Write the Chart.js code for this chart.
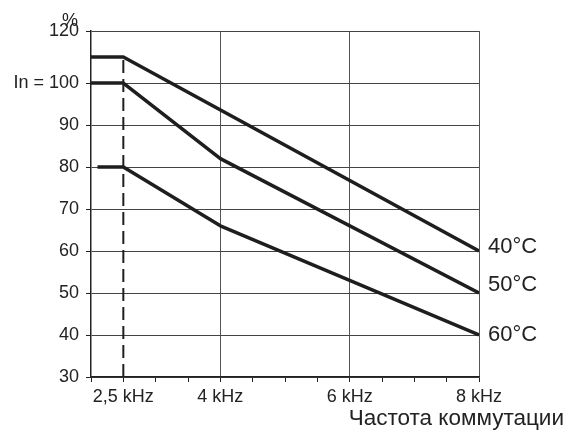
<!DOCTYPE html>
<html>
<head>
<meta charset="utf-8">
<script src="https://cdn.jsdelivr.net/npm/chart.js@4.4.1/dist/chart.umd.min.js"></script>
<style>
  html, body { margin: 0; padding: 0; background: #fff; }
  #wrap { width: 568px; height: 431px; }
</style>
</head>
<body>
<div id="wrap"><canvas id="derating" width="568" height="431"></canvas></div>
<script>
// Kurven (Frequenz in kHz, Strom in %)
const freq40 = [2, 2.5, 8];
const val40  = [110, 110, 60];
const freq50 = [2, 2.5, 4, 8];
const val50  = [100, 100, 82, 50];
const freq60 = [2.1, 2.5, 4, 8];
const val60  = [80, 80, 66, 40];
const curveLabels = ['40°C', '50°C', '60°C'];

// gestrichelte Linie bei 2,5 kHz
const dashFreq = [2.5, 2.5];
const dashVal  = [30, 110];

const xMajor       = [2.5, 4, 6, 8];
const xMajorLabels = ['2,5 kHz', '4 kHz', '6 kHz', '8 kHz'];
const xGridAt      = [4, 6, 8];
const yTicks       = [30, 40, 50, 60, 70, 80, 90, 100, 120];
const yTickLabels  = ['30', '40', '50', '60', '70', '80', '90', 'In = 100', '120'];

const FONT = "'Liberation Sans', Arial, sans-serif";
const SQUEEZE = 0.62; // Bereich ueber 100 % ist im Original gestaucht

function squeeze(v) {
  return v > 100 ? 100 + (v - 100) * SQUEEZE : v;
}

class KnickScale extends Chart.LinearScale {
  getPixelForValue(value) {
    if (value === null || value === undefined) return NaN;
    return super.getPixelForValue(squeeze(value));
  }
}
KnickScale.id = 'knick';
KnickScale.defaults = {};
Chart.register(KnickScale);

const pts = (xs, ys) => xs.map((x, i) => ({ x: x, y: ys[i] }));

const curveStyle = {
  borderColor: '#1e1e1e',
  borderWidth: 3.5,
  pointRadius: 0,
  fill: false,
  tension: 0,
  borderJoinStyle: 'round',
};

const textPlugin = {
  id: 'texte',
  afterDraw(chart) {
    const ctx = chart.ctx;
    const xs = chart.scales.x, ys = chart.scales.y;
    ctx.save();
    ctx.fillStyle = '#222';
    ctx.textBaseline = 'alphabetic';

    ctx.font = '18px ' + FONT;
    ctx.textAlign = 'center';
    ctx.fillText('%', 70, 26);

    ctx.font = '22.5px ' + FONT;
    ctx.textAlign = 'right';
    ctx.fillText('Частота коммутации', 564, 425);

    // Kurvenbeschriftung am letzten Punkt
    ctx.font = '22px ' + FONT;
    ctx.textAlign = 'left';
    ctx.textBaseline = 'middle';
    const nudges = [-4, -8, 0];
    [0, 1, 2].forEach(i => {
      const data = chart.data.datasets[i].data;
      const last = data[data.length - 1];
      const px = xs.getPixelForValue(last.x) + 9;
      const py = ys.getPixelForValue(last.y) + nudges[i];
      ctx.fillText(curveLabels[i], px, py);
    });
    ctx.restore();
  }
};

new Chart(document.getElementById('derating'), {
  type: 'line',
  data: {
    datasets: [
      Object.assign({ label: curveLabels[0], data: pts(freq40, val40) }, curveStyle),
      Object.assign({ label: curveLabels[1], data: pts(freq50, val50) }, curveStyle),
      Object.assign({ label: curveLabels[2], data: pts(freq60, val60) }, curveStyle),
      {
        label: 'f',
        data: pts(dashFreq, dashVal),
        borderColor: '#1e1e1e',
        borderWidth: 2,
        borderDash: [13, 6],
        pointRadius: 0,
        fill: false,
      },
    ],
  },
  options: {
    responsive: false,
    animation: false,
    events: [],
    layout: { padding: { top: 31, right: 89, left: 0, bottom: 0 } },
    plugins: {
      legend: { display: false },
      tooltip: { enabled: false },
      title: { display: false },
    },
    scales: {
      x: {
        type: 'linear',
        min: 2,
        max: 8,
        afterBuildTicks: scale => {
          const t = [];
          for (let v = 2; v <= 8.001; v += 0.5) t.push({ value: v });
          scale.ticks = t;
        },
        afterFit: scale => { scale.height = 54; },
        grid: {
          color: c => (c.tick && xGridAt.includes(c.tick.value)) ? '#555' : 'rgba(0,0,0,0)',
          lineWidth: 1,
          drawTicks: true,
          tickLength: 5,
          tickColor: '#222',
        },
        border: { display: true, color: '#222', width: 1.5 },
        ticks: {
          autoSkip: false,
          maxRotation: 0,
          padding: 4,
          color: '#222',
          font: { family: FONT, size: 18 },
          callback: v => {
            const i = xMajor.indexOf(v);
            return i >= 0 ? xMajorLabels[i] : '';
          },
        },
      },
      y: {
        type: 'knick',
        min: 30,
        max: squeeze(120),
        afterBuildTicks: scale => {
          scale.ticks = yTicks.map(v => ({ value: v }));
        },
        afterFit: scale => { scale.width = 91; },
        grid: {
          color: '#444',
          lineWidth: 1,
          drawTicks: true,
          tickLength: 5,
          tickColor: '#222',
        },
        border: { display: true, color: '#222', width: 1.5 },
        ticks: {
          autoSkip: false,
          padding: 7,
          color: '#222',
          font: { family: FONT, size: 18 },
          callback: v => {
            const i = yTicks.indexOf(v);
            return i >= 0 ? yTickLabels[i] : '';
          },
        },
      },
    },
  },
  plugins: [textPlugin],
});
</script>
</body>
</html>
